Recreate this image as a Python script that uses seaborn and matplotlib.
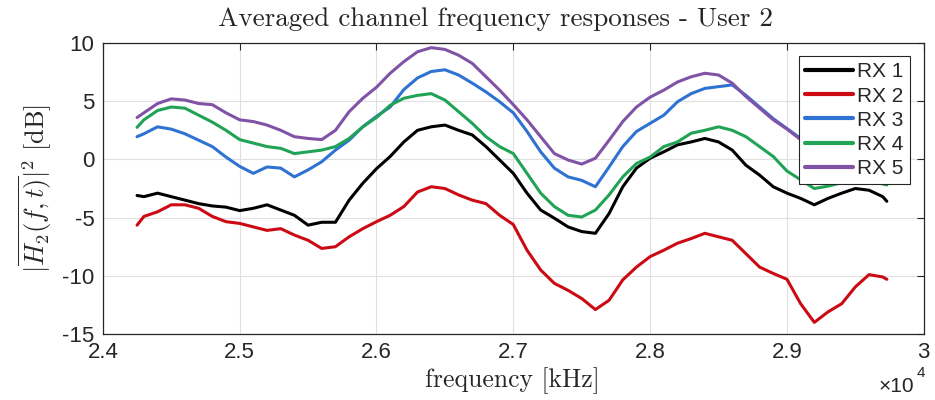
import numpy as np
import pandas as pd
import matplotlib
matplotlib.use('Agg')
import matplotlib.pyplot as plt
import seaborn as sns

# frequency grid (Hz)
freq = [24250] + list(range(24300, 29800, 100)) + [29730]

rx1 = [-3.1, -3.2, -2.9, -3.2, -3.5, -3.8, -4.0, -4.1,
       -4.4, -4.2, -3.9, -4.35, -4.8, -5.65, -5.4, -5.4, -3.5, -2.05,
       -0.8, 0.25, 1.5, 2.5, 2.8, 2.95, 2.5, 2.1, 1.1, -0.05,
       -1.2, -2.9, -4.35, -5.05, -5.8, -6.2, -6.35, -4.65, -2.35, -0.75,
       0.1, 0.65, 1.25, 1.5, 1.8, 1.5, 0.8, -0.5, -1.35, -2.35,
       -2.9, -3.35, -3.9, -3.35, -2.9, -2.5, -2.65, -3.2, -3.6]
rx2 = [-5.65, -4.9, -4.5, -3.9, -3.9, -4.2, -4.9, -5.35,
       -5.5, -5.8, -6.1, -5.95, -6.5, -6.95, -7.65, -7.5, -6.65, -5.95,
       -5.35, -4.8, -4.05, -2.8, -2.35, -2.5, -3.05, -3.5, -3.8, -4.8,
       -5.6, -7.8, -9.5, -10.65, -11.25, -11.95, -12.9, -12.1, -10.35, -9.25,
       -8.35, -7.8, -7.2, -6.8, -6.35, -6.65, -6.95, -8.1, -9.25, -9.8,
       -10.3, -12.4, -14.0, -13.1, -12.4, -10.95, -9.9, -10.1, -10.3]
rx3 = [1.95, 2.2, 2.8, 2.6, 2.2, 1.65, 1.1, 0.2,
       -0.6, -1.2, -0.65, -0.75, -1.5, -0.9, -0.2, 0.8, 1.65, 2.8,
       3.7, 4.5, 6.0, 7.0, 7.55, 7.7, 7.25, 6.55, 5.8, 4.95,
       4.0, 2.4, 0.65, -0.75, -1.5, -1.8, -2.35, -0.65, 1.1, 2.4,
       3.1, 3.8, 4.95, 5.65, 6.1, 6.25, 6.4, 5.5, 4.5, 3.5,
       2.65, 1.8, 1.2, 0.5, 0.1, 0.0, -0.2, -0.5, -0.7]
rx4 = [2.75, 3.4, 4.2, 4.5, 4.4, 3.8, 3.2, 2.5,
       1.7, 1.4, 1.1, 0.95, 0.5, 0.65, 0.8, 1.1, 1.8, 2.8,
       3.6, 4.65, 5.25, 5.5, 5.65, 5.1, 4.1, 3.1, 1.95, 1.1,
       0.5, -1.2, -2.9, -4.05, -4.8, -4.95, -4.35, -3.05, -1.5, -0.35,
       0.2, 1.1, 1.5, 2.25, 2.5, 2.8, 2.5, 1.95, 1.1, 0.25,
       -1.0, -1.75, -2.5, -2.3, -2.0, -1.8, -1.9, -2.1, -2.2]
rx5 = [3.6, 4.0, 4.8, 5.2, 5.1, 4.8, 4.7, 4.0,
       3.4, 3.25, 2.95, 2.5, 1.95, 1.8, 1.7, 2.5, 4.1, 5.25,
       6.2, 7.4, 8.4, 9.25, 9.6, 9.45, 8.95, 8.25, 7.1, 5.95,
       4.7, 3.4, 1.95, 0.5, -0.05, -0.4, 0.1, 1.65, 3.25, 4.5,
       5.35, 5.95, 6.65, 7.1, 7.4, 7.25, 6.55, 5.4, 4.4, 3.4,
       2.6, 1.7, 1.1, 0.6, 0.2, 0.1, -0.1, -0.4, -0.6]

labels = ['RX 1', 'RX 2', 'RX 3', 'RX 4', 'RX 5']
colors = ['#000000', '#cc0a14', '#2e72d2', '#21a355', '#8153a6']
xticks = [24000, 25000, 26000, 27000, 28000, 29000, 30000]
xticklabels = ['2.4', '2.5', '2.6', '2.7', '2.8', '2.9', '3']
yticks = [-15, -10, -5, 0, 5, 10]
yticklabels = ['-15', '-10', '-5', '0', '5', '10']

df = pd.concat([pd.DataFrame({'freq': freq, 'val': v, 'rx': l})
                for v, l in zip([rx1, rx2, rx3, rx4, rx5], labels)])

sns.set_style('white')
plt.rcParams['font.family'] = ['Liberation Sans', 'DejaVu Sans']
plt.rcParams['mathtext.fontset'] = 'cm'

fig = plt.figure(figsize=(9.35, 4.0), dpi=100)
ax = fig.add_axes([0.110, 0.165, 0.878, 0.7275])
sns.lineplot(data=df, x='freq', y='val', hue='rx', palette=dict(zip(labels, colors)),
             linewidth=2.2, ax=ax, sort=False)

ax.set_xlim(24000, 30000)
ax.set_ylim(-15, 10)
ax.set_xticks(xticks)
ax.set_xticklabels(xticklabels)
ax.set_yticks(yticks)
ax.set_yticklabels(yticklabels)
ax.grid(True, color='#e0e0e0', linewidth=0.8)
ax.tick_params(direction='in', top=True, right=True, length=5, width=0.8,
               labelsize=16, colors='#262626', pad=6)
for s in ax.spines.values():
    s.set_color('#262626')
    s.set_linewidth(0.9)

ax.set_xlabel('')
ax.set_ylabel(r'$|\overline{H_2(f,t)}|^2\ \mathrm{[dB]}$', fontsize=19, labelpad=6)
fig.text(0.548, 0.048, 'frequency [kHz]', family='cmr10', fontsize=18.5,
         ha='center', va='center', color='#262626')
fig.text(0.530, 0.952, 'Averaged channel frequency responses - User 2',
         family='cmr10', fontsize=19.5, ha='center', va='center')
fig.text(0.978, 0.035, '\u00d710', fontsize=15, ha='right', va='center', color='#262626')
fig.text(0.980, 0.068, '4', fontsize=11, ha='left', va='center', color='#262626')

leg = ax.legend(loc='upper right', bbox_to_anchor=(0.983, 0.955), borderaxespad=0,
                fontsize=15, frameon=True, fancybox=False, framealpha=1,
                handlelength=2.3, handletextpad=0.2, labelspacing=0.25, borderpad=0.3)
leg.get_frame().set_edgecolor('#262626')
leg.get_frame().set_linewidth(0.8)
for line in leg.get_lines():
    line.set_linewidth(3)

fig.savefig('out.png', dpi=100)
